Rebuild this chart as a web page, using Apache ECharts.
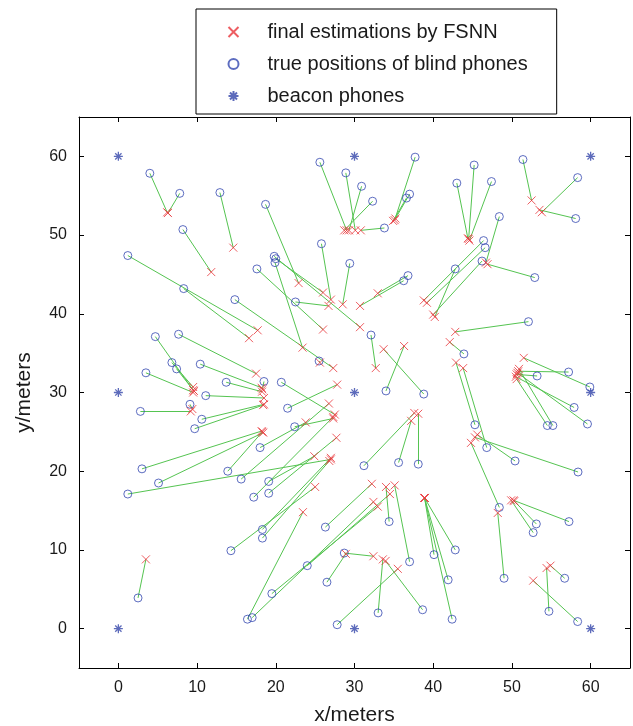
<!DOCTYPE html>
<html><head><meta charset="utf-8">
<script src="https://cdn.jsdelivr.net/npm/echarts@6/dist/echarts.min.js"></script>
<style>html,body{margin:0;padding:0;background:#fff}#c{width:633px;height:726px}</style>
</head><body><div id="c"></div>
<script>
// true positions of blind phones
const trueX = [4.0,7.8,12.9,8.2,1.2,8.3,17.6,14.8,18.7,19.8,20.0,19.9,25.8,29.4,22.5,25.6,28.9,30.9,32.3,33.8,37.7,37.0,36.6,36.8,36.25,45.2,43.0,47.4,51.4,58.35,58.1,48.4,52.9,46.4,46.6,42.8,46.2,52.1,43.9,45.3,46.8,59.9,57.2,53.2,57.9,59.6,54.5,55.2,50.4,58.4,48.4,49.0,53.1,52.7,57.25,56.7,54.7,58.35,40.1,42.8,41.9,42.4,37.0,34.4,24.0,19.5,17.0,16.4,26.3,28.7,26.5,33.0,27.8,38.65,2.5,14.3,18.3,18.3,19.1,19.1,17.2,15.6,22.4,18.0,1.2,3.0,5.1,13.9,20.7,21.5,25.5,32.1,38.8,34.0,31.2,35.6,38.1,4.7,6.8,7.4,3.5,7.65,2.8,9.1,10.4,13.7,11.1,18.5,10.6,9.7];
const trueY = [57.85,55.3,55.4,50.7,47.4,43.2,45.7,41.8,53.9,47.3,47.0,46.5,48.9,46.4,41.5,59.25,57.9,56.2,54.3,50.9,59.9,55.2,54.7,44.85,44.2,58.9,56.6,56.8,59.6,57.3,52.1,52.35,44.6,49.3,48.4,45.7,46.7,39.0,34.9,25.9,23.0,30.7,32.6,32.1,28.1,26.0,25.8,25.8,21.3,19.9,15.4,6.4,13.3,12.2,13.6,6.4,2.2,0.9,9.4,10.0,6.2,1.2,8.5,13.6,8.0,4.45,1.4,1.2,12.9,9.6,5.9,2.0,0.5,2.4,3.9,9.9,12.6,11.5,18.7,17.2,16.7,19.0,25.65,23.0,17.1,20.3,18.5,20.0,31.3,28.0,34.0,37.3,29.8,30.2,20.7,21.1,20.9,37.1,33.8,33.0,32.5,37.4,27.6,28.5,33.6,31.3,29.6,31.4,26.6,25.4];
// final estimations by FSNN
const estX = [6.2,6.3,14.6,11.8,17.7,16.6,26.0,27.3,22.9,30.7,26.0,23.4,27.0,28.5,26.7,29.0,30.1,29.3,28.7,30.8,35.1,35.2,34.9,32.95,30.7,44.5,44.4,44.6,52.5,53.8,53.5,46.7,46.9,38.8,39.2,40.2,40.0,42.8,42.1,42.9,43.8,51.5,50.8,50.6,50.5,50.7,50.6,50.9,45.6,45.3,44.8,48.2,50.3,49.9,50.2,54.9,54.4,52.7,38.9,38.9,38.9,38.9,35.1,34.0,34.5,32.95,32.4,23.45,32.2,32.4,28.9,33.6,35.5,33.95,3.5,25.0,27.0,26.8,24.9,27.7,27.3,26.75,27.3,23.8,27.0,18.2,18.4,18.3,27.5,27.8,25.6,32.7,33.7,36.3,37.6,37.2,38.1,9.5,9.5,9.6,9.5,17.5,9.2,9.4,18.2,18.25,18.5,18.3,18.5,18.4];
const estY = [52.9,52.8,48.4,45.3,37.9,36.9,38.0,33.1,43.9,38.3,42.7,35.7,41.8,41.2,41.0,50.6,50.6,50.6,50.6,50.6,51.9,52.1,51.8,42.6,41.0,49.5,49.6,49.3,54.4,52.9,53.2,46.5,46.3,41.7,41.4,39.6,39.9,37.7,36.4,33.8,33.1,34.4,32.7,32.3,32.0,32.5,31.7,33.0,24.65,24.3,23.6,14.7,16.2,16.3,16.3,8.0,7.7,6.1,16.6,16.6,16.6,16.6,18.2,18.0,17.1,15.5,16.1,14.8,18.4,9.2,9.5,8.8,7.6,8.6,8.8,18.0,21.7,21.3,21.9,24.25,26.9,28.6,26.7,26.2,21.5,25.1,24.9,25.0,27.2,31.0,33.8,33.1,35.5,35.9,27.4,26.4,27.3,30.3,30.7,30.2,30.0,32.4,27.6,27.9,30.6,30.1,29.3,30.4,28.5,28.4];
// beacon phones
const beaconX = [0,30,60,0,30,60,0,30,60];
const beaconY = [60,60,60,30,30,30,0,0,0];
// axis tick labels
const tickValues = [0,10,20,30,40,50,60];

const names = ['final estimations by FSNN','true positions of blind phones','beacon phones'];
const font = '"Liberation Sans", Arial, Helvetica, sans-serif';
const crossPath = 'path://M0,0L10,10M10,0L0,10';
const starPath = 'path://M0,5L10,5M5,0L5,10M1.5,1.5L8.5,8.5M8.5,1.5L1.5,8.5';

function axis(pos, showLabel, extra) {
  return Object.assign({
    type: 'value', min: -5, max: 65, position: pos,
    axisLine: { onZero: false, lineStyle: { color: '#000', width: 1 } },
    splitLine: { show: false },
    axisTick: { show: true, inside: true, length: 5, customValues: tickValues, lineStyle: { color: '#000', width: 1 } },
    axisLabel: { show: showLabel, customValues: tickValues, fontFamily: font, fontSize: 16, color: '#1a1a1a' }
  }, extra || {});
}

const chart = echarts.init(document.getElementById('c'), null, { renderer: 'canvas' });
chart.setOption({
  animation: false,
  backgroundColor: '#fff',
  grid: { left: 79, top: 117, width: 551, height: 551, containLabel: false, outerBoundsMode: 'none' },
  xAxis: [
    axis('bottom', true, { name: 'x/meters', nameLocation: 'middle', nameGap: 37,
      nameTextStyle: { fontFamily: font, fontSize: 21, color: '#1a1a1a' },
      axisLabel: { show: true, customValues: tickValues, margin: 12, fontFamily: font, fontSize: 16, color: '#1a1a1a' } }),
    axis('top', false)
  ],
  yAxis: [
    axis('left', true, { name: 'y/meters', nameLocation: 'middle', nameGap: 44, nameRotate: 90,
      nameTextStyle: { fontFamily: font, fontSize: 21, color: '#1a1a1a' },
      axisLabel: { show: true, customValues: tickValues, margin: 12, fontFamily: font, fontSize: 16, color: '#1a1a1a' } }),
    axis('right', false)
  ],
  legend: {
    orient: 'vertical', left: 196, top: 9,
    padding: [13, 29, 8, 30],
    itemWidth: 58, itemHeight: 10, itemGap: 12,
    borderColor: '#000', borderWidth: 1, backgroundColor: '#fff',
    textStyle: { fontFamily: font, fontSize: 20, lineHeight: 20, color: '#1a1a1a' },
    data: names
  },
  series: [
    {
      type: 'lines', coordinateSystem: 'cartesian2d', silent: true, z: 1,
      lineStyle: { color: '#55c451', width: 1, opacity: 1 },
      data: trueX.map((x, i) => ({ coords: [[x, trueY[i]], [estX[i], estY[i]]] }))
    },
    {
      name: names[1], type: 'scatter', z: 2, symbol: 'circle', symbolSize: 8,
      itemStyle: { color: 'none', borderColor: '#3448b0', borderWidth: 1 },
      data: trueX.map((x, i) => [x, trueY[i]])
    },
    {
      name: names[0], type: 'scatter', z: 3, symbol: crossPath, symbolSize: 8, symbolKeepAspect: true,
      itemStyle: { color: 'none', borderColor: '#e8353a', borderWidth: 1 },
      data: estX.map((x, i) => [x, estY[i]])
    },
    {
      name: names[2], type: 'scatter', z: 4, symbol: starPath, symbolSize: 9, symbolKeepAspect: true,
      itemStyle: { color: 'none', borderColor: '#3446aa', borderWidth: 1.3 },
      data: beaconX.map((x, i) => [x, beaconY[i]])
    }
  ]
});
</script></body></html>
